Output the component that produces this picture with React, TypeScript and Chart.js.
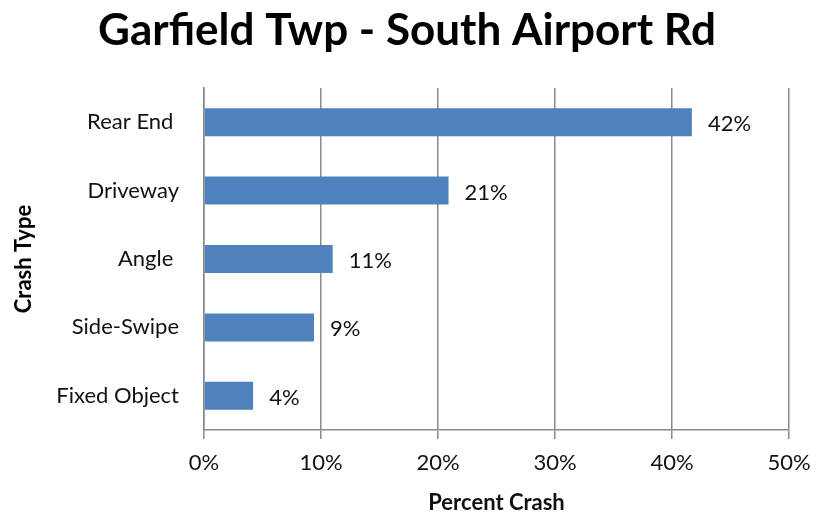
import React, { useEffect, useRef } from "react";
import { Chart, registerables } from "chart.js";

Chart.register(...registerables);

const TITLE = "Garfield Twp - South Airport Rd";
const categories = ["Rear End ", "Driveway", "Angle ", "Side-Swipe", "Fixed Object"];
const percentValues = [41.7, 20.9, 11.0, 9.4, 4.2];
const xTicks = [0, 10, 20, 30, 40, 50];
const X_TITLE = "Percent Crash";
const Y_TITLE = "Crash Type";

const FONT = "Lato, 'Open Sans', sans-serif";

const titlePlugin = {
  id: "topTitle",
  afterDraw(chart: any) {
    const ctx = chart.ctx;
    ctx.save();
    ctx.font = `bold 44px ${FONT}`;
    ctx.fillStyle = "#000";
    ctx.textAlign = "center";
    ctx.textBaseline = "alphabetic";
    ctx.fillText(TITLE, 407, 45);
    ctx.restore();
  },
};

const dataLabelPlugin = {
  id: "dataLabels",
  afterDatasetsDraw(chart: any) {
    const ctx = chart.ctx;
    const meta = chart.getDatasetMeta(0);
    ctx.save();
    ctx.font = `22px ${FONT}`;
    ctx.fillStyle = "#111";
    ctx.textAlign = "left";
    ctx.textBaseline = "middle";
    meta.data.forEach((bar: any, i: number) => {
      const v = percentValues[i];
      ctx.fillText(`${Math.round(v)}%`, bar.x + 16, bar.y + 2);
    });
    ctx.restore();
  },
};

export default function App() {
  const ref = useRef<HTMLCanvasElement | null>(null);
  useEffect(() => {
    document.body.style.margin = "0";
    const chart = new Chart(ref.current as HTMLCanvasElement, {
      type: "bar",
      data: {
        labels: categories,
        datasets: [
          {
            data: percentValues,
            backgroundColor: "#4F81BD",
            borderWidth: 0,
            barPercentage: 0.41,
            categoryPercentage: 1,
          },
        ],
      },
      options: {
        indexAxis: "y",
        animation: false,
        responsive: false,
        maintainAspectRatio: false,
        layout: { padding: { left: 0, right: 28, top: 88, bottom: 0 } },
        plugins: {
          legend: { display: false },
          tooltip: { enabled: false },
          title: { display: false },
        },
        scales: {
          x: {
            min: 0,
            max: 50,
            afterFit: (s: any) => {
              s.height = 86;
              s.paddingLeft = 0;
              s.paddingRight = 0;
            },
            afterBuildTicks: (s: any) => {
              s.ticks = xTicks.map((v) => ({ value: v }));
            },
            ticks: {
              callback: (v: any) => `${v}%`,
              color: "#111",
              font: { family: FONT, size: 22 },
              padding: 11,
              maxRotation: 0,
            },
            grid: {
              color: "#8a8a8a",
              lineWidth: 1.5,
              drawTicks: true,
              tickLength: 9,
            },
            border: { color: "#8a8a8a", width: 1.5 },
            title: {
              display: true,
              text: X_TITLE,
              color: "#111",
              font: { family: FONT, size: 22, weight: "bold" },
              padding: { top: 0, bottom: 0 },
            },
          },
          y: {
            afterFit: (s: any) => {
              s.width = 204;
            },
            ticks: {
              color: "#111",
              font: { family: FONT, size: 22 },
              padding: 25,
            },
            grid: { display: false, drawTicks: false },
            border: { color: "#8a8a8a", width: 1.5 },
            title: {
              display: true,
              text: Y_TITLE,
              color: "#000",
              font: { family: FONT, size: 22, weight: "bold" },
              padding: { top: 11, bottom: 0 },
            },
          },
        },
      },
      plugins: [dataLabelPlugin, titlePlugin],
    } as any);
    return () => chart.destroy();
  }, []);
  return (
    <div style={{ position: "absolute", left: 0, top: 0, width: 817, height: 516, background: "#fff" }}>
      <canvas ref={ref} width={817} height={516} style={{ width: 817, height: 516 }} />
    </div>
  );
}
